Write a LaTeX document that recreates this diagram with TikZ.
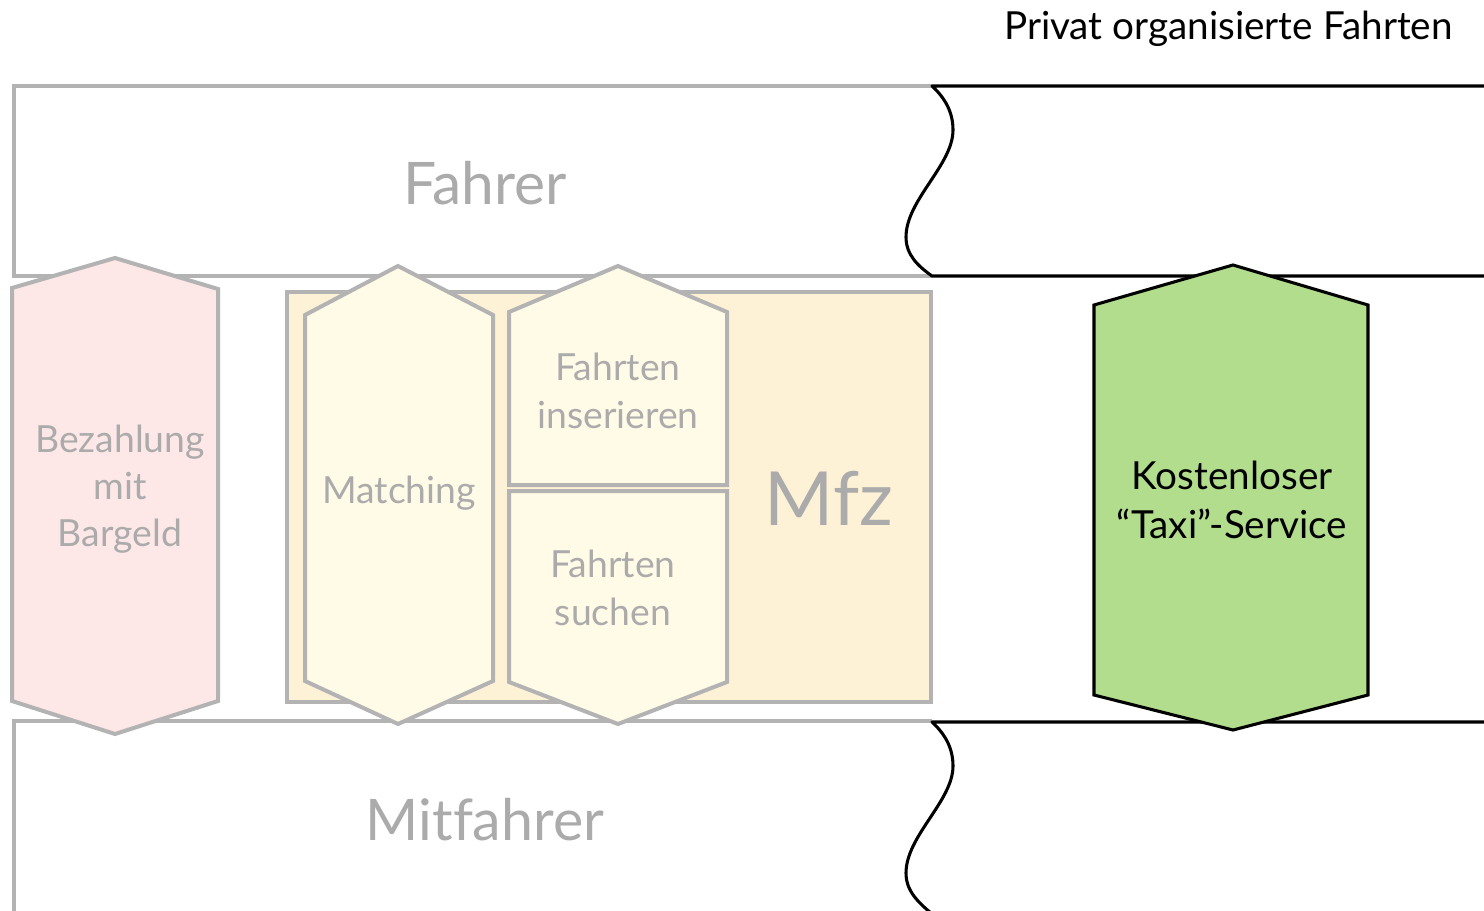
\documentclass[tikz,border=0pt]{standalone}
\usepackage{fontspec}
\setmainfont{Lato}[Ligatures=NoCommon]
\definecolor{lgray}{HTML}{B3B3B3}
\definecolor{tgray}{HTML}{ABABAB}
\definecolor{pinkf}{HTML}{FDE7E7}
\definecolor{mfzf}{HTML}{FEF2D6}
\definecolor{creamf}{HTML}{FFFBE7}
\definecolor{greenf}{HTML}{B2DD8C}
\tikzset{
  gline/.style={draw=lgray, line width=3pt, line join=miter},
  bline/.style={draw=black, line width=2.3pt, line join=round},
  gtext/.style={text=tgray, align=center, inner sep=0pt},
  htext/.style={gtext, font=\fontsize{28}{35.5}\selectfont},
}
\begin{document}
\begin{tikzpicture}[x=0.75pt,y=-0.75pt]
\useasboundingbox (0,0) rectangle (1484,910);
\fill[white] (0,0) rectangle (1484,910);

% top band (Fahrer)
\draw[gline] (932,86) -- (14,86) -- (14,276) -- (932,276);
\draw[bline] (1486,86) -- (932,86)
  .. controls (945,98) and (953,112) .. (953,130)
  .. controls (953,165) and (906,200) .. (906,237)
  .. controls (906,255) and (918,266) .. (932,276) -- (1486,276);

% bottom band (Mitfahrer)
\draw[gline] (932,721) -- (14,721) -- (14,914);
\draw[bline] (1486,722) -- (932,722)
  .. controls (945,734) and (953,748) .. (953,766)
  .. controls (953,801) and (906,836) .. (906,873)
  .. controls (906,891) and (918,902) .. (932,914);

\node[gtext, font=\fontsize{44}{50}\selectfont] (fahrer) at (485,183) {Fahrer};
\node[gtext, font=\fontsize{43}{50}\selectfont] (mitfahrer) at (485,820) {Mitfahrer};

\node[anchor=base east, inner sep=0pt, font=\fontsize{29}{34}\selectfont] (privat) at (1453,39) {Privat organisierte Fahrten};

% Mfz box
\draw[gline, fill=mfzf] (287,292) rectangle (931,702);
\node[gtext, font=\fontsize{56}{64}\selectfont] (mfz) at (829,498) {Mfz};

% pink hexagon
\draw[gline, fill=pinkf] (115,258) -- (218,289) -- (218,701) -- (115,734) -- (12,701) -- (12,288) -- cycle;
\node[htext] (bez) at (120,489) {Bezahlung\\mit\\Bargeld};

% Matching hexagon
\draw[gline, fill=creamf] (398,266) -- (493,315) -- (493,681) -- (398,724) -- (305,681) -- (305,315) -- cycle;
\node[htext] (match) at (399,493) {Matching};

% Fahrten inserieren
\draw[gline, fill=creamf] (618,266) -- (727,312) -- (727,485) -- (509,485) -- (509,312) -- cycle;
\node[htext] (ins) at (618,391) {Fahrten\\inserieren};

% Fahrten suchen
\draw[gline, fill=creamf] (509,491) -- (727,491) -- (727,682) -- (618,724) -- (509,682) -- cycle;
\node[htext] (such) at (613,588) {Fahrten\\suchen};

% green hexagon
\draw[bline, line join=miter, fill=greenf] (1233,265) -- (1368,305) -- (1368,695) -- (1233,730) -- (1094,695) -- (1094,305) -- cycle;
\node[align=center, inner sep=0pt, font=\fontsize{29}{36.5}\selectfont] (taxi) at (1232,500) {Kostenloser\\“Taxi”-Service};
\end{tikzpicture}
\end{document}
